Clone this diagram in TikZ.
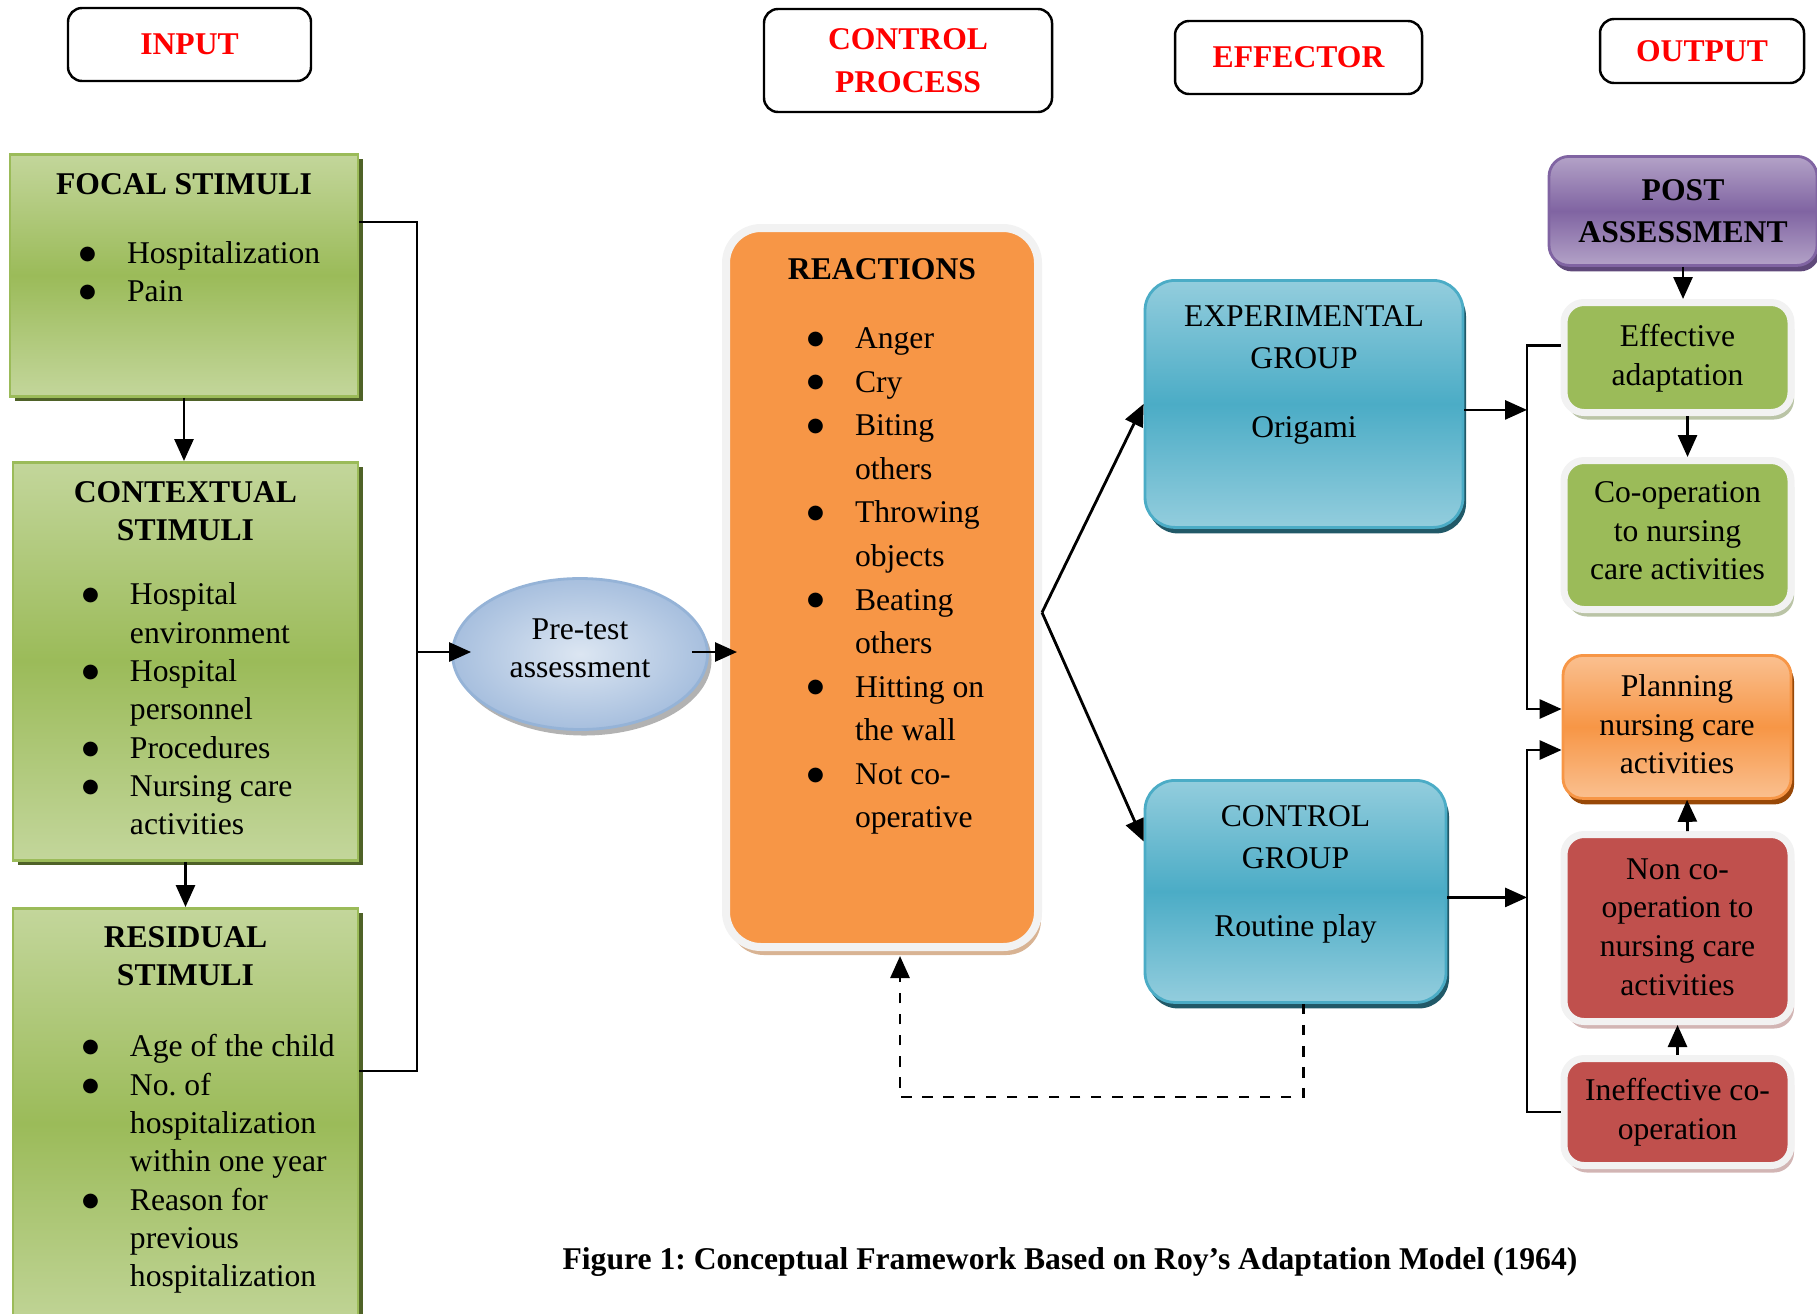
\documentclass[tikz,border=0pt]{standalone}
\usepackage{fontspec}
\setmainfont{Liberation Serif}
\newfontfamily\symfont{DejaVu Sans}
\usetikzlibrary{arrows.meta,shapes.geometric,shadows}
\definecolor{GreenLt}{HTML}{C3D69B}
\definecolor{GreenMd}{HTML}{9BBB59}
\definecolor{GreenDk}{HTML}{4F6228}
\definecolor{BlueLt}{HTML}{93CDDD}
\definecolor{BlueMd}{HTML}{4BACC6}
\definecolor{BlueDk}{HTML}{215968}
\definecolor{PaleBlue}{HTML}{DCE6F2}
\definecolor{SkyBlue}{HTML}{A7BFDE}
\definecolor{EdgeBlue}{HTML}{95B3D7}
\definecolor{Orange}{HTML}{F79646}
\definecolor{OrangeLt}{HTML}{FAC090}
\definecolor{Brown}{HTML}{984807}
\definecolor{Tan}{HTML}{D8B393}
\definecolor{PurpleLt}{HTML}{B3A2C7}
\definecolor{PurpleMd}{HTML}{8064A2}
\definecolor{PurpleDk}{HTML}{5F497A}
\definecolor{Brick}{HTML}{C0504D}
\definecolor{Frame}{HTML}{F2F2F2}
\definecolor{Sage}{HTML}{BAC4A6}
\definecolor{Rose}{HTML}{D2B5B4}

\newcommand{\boxtext}[3]{\parbox[t][#2][t]{#1}{#3}}
\newcommand{\bhead}[1]{{\centering\bfseries #1\par}}
\newcommand{\ctext}[1]{{\centering #1\par}}
\newcommand{\bulletmark}{\raisebox{1.2pt}{\symfont\fontsize{5.5}{5.5}\selectfont ●}}
\newcommand{\bitem}[2][1.17cm]{\par\noindent\hangindent=#1\hangafter=1%
  \hspace*{\dimexpr#1-0.48cm\relax}%
  \makebox[0.48cm][l]{\bulletmark}#2\par}

\begin{document}
\begin{tikzpicture}[
    hdr/.style={draw,rounded corners=4pt,line width=0.7pt,text=red,
      font=\fontsize{9}{12.2}\selectfont\bfseries,align=center,inner sep=0pt},
    stim/.style={draw=GreenMd,line width=0.8pt,top color=GreenLt,bottom color=GreenLt,
      middle color=GreenMd,inner sep=0pt,anchor=north,font=\fontsize{9}{10.9}\selectfont,
      drop shadow={fill=GreenDk,opacity=1,shadow xshift=0.5mm,shadow yshift=-0.5mm}},
    oval/.style={ellipse,draw=EdgeBlue,line width=0.8pt,inner color=PaleBlue,outer color=SkyBlue,
      minimum width=2.55cm,minimum height=1.51cm,inner sep=0pt,align=center,
      font=\fontsize{9}{10.9}\selectfont,
      drop shadow={fill=gray!60,opacity=1,shadow xshift=0.4mm,shadow yshift=-0.6mm}},
    react/.style={draw=Frame,line width=0.8mm,fill=Orange,rounded corners=3.5mm,inner sep=0pt,
      anchor=north,font=\fontsize{9}{12.4}\selectfont,
      drop shadow={fill=Tan,opacity=1,shadow xshift=0.3mm,shadow yshift=-0.8mm}},
    grp/.style={draw=BlueMd,line width=0.8pt,rounded corners=3mm,top color=BlueLt,
      bottom color=BlueLt,middle color=BlueMd,inner sep=0pt,anchor=north,
      font=\fontsize{9}{12}\selectfont,
      drop shadow={fill=BlueDk,opacity=1,shadow xshift=0.3mm,shadow yshift=-0.6mm}},
    plum/.style={draw=PurpleMd,line width=0.8pt,rounded corners=2mm,top color=PurpleLt,
      bottom color=PurpleLt,middle color=PurpleMd,inner sep=0pt,anchor=north,
      font=\fontsize{9}{12}\selectfont,
      drop shadow={fill=PurpleDk,opacity=1,shadow xshift=0.3mm,shadow yshift=-0.6mm}},
    plan/.style={draw=Orange,line width=0.8pt,rounded corners=2mm,top color=OrangeLt,
      bottom color=OrangeLt,middle color=Orange,inner sep=0pt,anchor=north,
      font=\fontsize{9}{11}\selectfont,
      drop shadow={fill=Brown,opacity=1,shadow xshift=0.3mm,shadow yshift=-0.6mm}},
    outbox/.style={draw=Frame,line width=0.7mm,rounded corners=2mm,inner sep=0pt,
      anchor=north,font=\fontsize{9}{11}\selectfont},
    goodbox/.style={outbox,fill=GreenMd,
      drop shadow={fill=Sage,opacity=1,shadow xshift=0.3mm,shadow yshift=-0.7mm}},
    badbox/.style={outbox,fill=Brick,
      drop shadow={fill=Rose,opacity=1,shadow xshift=0.3mm,shadow yshift=-0.7mm}},
    conn/.style={line width=0.8pt},
    arr/.style={conn,-{Triangle[length=2.2mm,width=1.9mm]}}
  ]
  \useasboundingbox (0,0) rectangle (18.17,-13.13);

  % column headers
  \node[hdr,minimum width=2.43cm,minimum height=0.73cm] (hinput) at (1.895,-0.445) {INPUT};
  \node[hdr,minimum width=2.88cm,minimum height=1.03cm] (hcontrol) at (9.08,-0.605) {CONTROL\\PROCESS};
  \node[hdr,minimum width=2.47cm,minimum height=0.73cm] (heffector) at (12.985,-0.575) {EFFECTOR};
  \node[hdr,minimum width=2.04cm,minimum height=0.64cm] (houtput) at (17.02,-0.51) {OUTPUT};

  % input: stimuli
  \node[stim] (focal) at (1.84,-1.53) {\boxtext{3.48cm}{2.42cm}{\vspace{0.19cm}%
    \bhead{FOCAL STIMULI}\vspace{0.31cm}%
    \bitem{Hospitalization}
    \bitem{Pain}}};
  \node[stim] (contextual) at (1.855,-4.61) {\boxtext{3.45cm}{3.98cm}{\vspace{0.19cm}%
    \bhead{CONTEXTUAL\\STIMULI}\vspace{0.26cm}%
    \bitem{Hospital\newline environment}
    \bitem{Hospital\newline personnel}
    \bitem{Procedures}
    \bitem{Nursing care\newline activities}}};
  \node[stim] (residual) at (1.855,-9.07) {\boxtext{3.45cm}{4.30cm}{\vspace{0.18cm}%
    \bhead{RESIDUAL\\STIMULI}\vspace{0.33cm}%
    \bitem{Age of the child}
    \bitem{No.\ of\newline hospitalization\newline within one year}
    \bitem{Reason for\newline previous\newline hospitalization}}};

  \node[oval] (pretest) at (5.80,-6.54) {Pre-test\\assessment\rule[-0.12cm]{0pt}{0.12cm}};

  % control process
  \node[react] (reactions) at (8.82,-2.24) {\boxtext{3.12cm}{7.19cm}{\vspace{0.31cm}%
    \bhead{REACTIONS}\vspace{0.25cm}%
    \bitem[1.29cm]{Anger}
    \bitem[1.29cm]{Cry}
    \bitem[1.29cm]{Biting\newline others}
    \bitem[1.29cm]{Throwing\newline objects}
    \bitem[1.29cm]{Beating\newline others}
    \bitem[1.29cm]{Hitting on\newline the wall}
    \bitem[1.29cm]{Not co-\newline operative}}};

  % effector
  \node[grp] (expgrp) at (13.04,-2.79) {\boxtext{3.18cm}{2.47cm}{\vspace{0.25cm}%
    \ctext{EXPERIMENTAL\\GROUP\\[0.27cm]Origami}}};
  \node[grp] (ctrlgrp) at (12.955,-7.79) {\boxtext{3.01cm}{2.22cm}{\vspace{0.25cm}%
    \ctext{CONTROL\\GROUP\\[0.26cm]Routine play}}};

  % output
  \node[plum] (post) at (16.83,-1.55) {\boxtext{2.68cm}{1.09cm}{\vspace{0.23cm}%
    \bhead{POST\\ASSESSMENT}}};
  \node[goodbox] (effective) at (16.775,-2.99) {\boxtext{2.27cm}{1.10cm}{\vspace{0.22cm}%
    \ctext{Effective\\adaptation}}};
  \node[goodbox] (coop) at (16.775,-4.57) {\boxtext{2.27cm}{1.49cm}{\vspace{0.21cm}%
    \ctext{Co-operation\\to nursing\\care activities}}};
  \node[plan] (planning) at (16.77,-6.54) {\boxtext{2.28cm}{1.43cm}{\vspace{0.19cm}%
    \ctext{Planning\\nursing care\\activities}}};
  \node[badbox] (noncoop) at (16.775,-8.31) {\boxtext{2.27cm}{1.87cm}{\vspace{0.24cm}%
    \ctext{Non co-\\operation to\\nursing care\\activities}}};
  \node[badbox] (ineffective) at (16.775,-10.55) {\boxtext{2.27cm}{1.07cm}{\vspace{0.20cm}%
    \ctext{Ineffective co-\\operation}}};

  \node[font=\fontsize{9}{11}\selectfont\bfseries] (caption) at (10.70,-12.62)
    {Figure 1:\ Conceptual Framework Based on Roy’s Adaptation Model (1964)};

  % connectors
  \coordinate (bus) at (4.17,-6.52);
  \coordinate (fork) at ([yshift=-2.5mm]reactions.east);
  \coordinate (upbus) at (15.27,-7.09);
  \coordinate (lowbus) at (15.27,-7.50);
  \coordinate (fb) at (9.00,-10.97);
  \coordinate (fbtop) at (9.00,-9.56);
  \coordinate (intoreact) at (7.37,-6.52);

  \draw[arr] (focal.south) -- (focal.south |- contextual.north);
  \draw[arr] (contextual.south) -- (residual.north);
  \draw[conn] ([yshift=-6.9mm]focal.north east) -| (bus);
  \draw[conn] ([yshift=-16.4mm]residual.north east) -| (bus);
  \draw[arr] (bus) -- ([xshift=2mm]pretest.west |- bus);
  \draw[arr] ([xshift=-1.7mm]pretest.east |- intoreact) -- (intoreact);
  \draw[arr] (fork) -- (expgrp.west);
  \draw[arr] (fork) -- ([yshift=5mm]ctrlgrp.west);
  \draw[arr,dashed] ([xshift=0.8mm]ctrlgrp.south) |- (fb) -- (fbtop);
  \draw[arr] ([yshift=-0.6mm]expgrp.east) -- ([yshift=-0.6mm]expgrp.east -| upbus);
  \draw[arr] ([yshift=-0.6mm]ctrlgrp.east) -- ([yshift=-0.6mm]ctrlgrp.east -| lowbus);
  \draw[arr] ([yshift=1.2mm]effective.west) -| (upbus) -- (upbus -| planning.west);
  \draw[arr] (ineffective.west) -| (lowbus) -- (lowbus -| planning.west);
  \draw[arr] (post.south) -- (post.south |- effective.north);
  \draw[arr] ([xshift=1mm]effective.south) -- ([xshift=1mm]coop.north);
  \draw[arr] ([xshift=1mm]noncoop.north) -- ([xshift=1mm]planning.south);
  \draw[arr] (ineffective.north) -- (noncoop.south);
\end{tikzpicture}
\end{document}
